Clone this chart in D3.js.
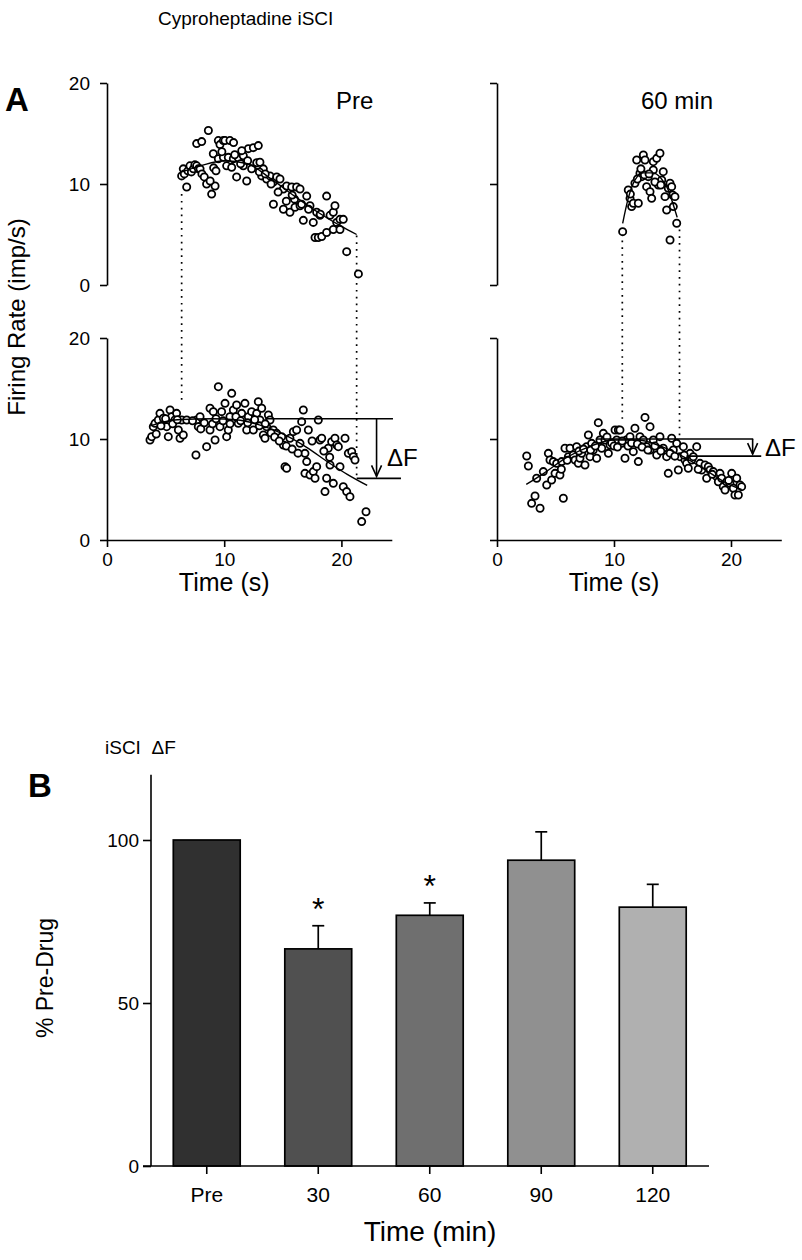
<!DOCTYPE html>
<html><head><meta charset="utf-8">
<script src="https://cdn.jsdelivr.net/npm/d3@7/dist/d3.min.js"></script>
<style>body{margin:0;background:#fff} text{font-family:"Liberation Sans",Arial,sans-serif;fill:#000}</style>
</head><body><svg id="c" width="802" height="1260"></svg>
<script>
// ---------- DATA ----------
const firingTicks = [0, 10, 20];
const timeTicks = [0, 10, 20];
const pctTicks = [0, 50, 100];

// Panel A, Pre, top (descending ramp portion) [time s, rate imp/s]
const preTopPoints = [[6.37,10.8],[6.51,11.5],[6.8,9.7],[6.6,11.0],[6.9,11.3],[7.08,11.8],[7.2,11.2],[7.37,11.5],[7.5,11.9],[7.65,11.8],[7.8,11.5],[7.94,11.5],[8.1,11.0],[8.3,10.7],[7.65,14.0],[8.08,14.2],[8.65,15.3],[8.5,10.0],[8.93,9.0],[9.22,9.8],[8.8,10.3],[9.07,13.0],[9.1,11.6],[9.3,11.3],[9.5,14.3],[9.64,13.9],[9.93,14.3],[10.07,14.3],[10.49,14.3],[10.8,14.1],[9.5,12.5],[9.93,12.64],[10.35,12.64],[10.78,12.5],[11.2,12.6],[11.63,12.8],[12.06,13.5],[12.49,13.6],[12.91,13.8],[10.21,11.8],[10.64,11.65],[11.06,10.7],[11.63,11.8],[11.92,10.3],[12.34,11.5],[12.77,12.1],[13.05,12.15],[13.34,11.5],[13.2,10.8],[13.62,10.5],[13.91,10.8],[14.19,10.2],[14.48,10.7],[14.76,10.5],[15.05,9.5],[15.33,9.8],[15.76,9.7],[16.18,9.7],[16.47,9.5],[13.0,11.2],[13.5,11.0],[14.0,10.0],[14.2,8.0],[15.05,7.5],[15.61,7.2],[16.04,7.7],[16.47,7.85],[16.75,6.4],[17.04,8.8],[17.32,7.85],[17.6,6.2],[17.89,7.2],[18.17,6.9],[18.74,8.8],[19.03,6.9],[19.31,7.2],[19.45,7.85],[19.6,6.2],[19.88,6.5],[20.16,6.5],[17.75,4.7],[18.03,4.7],[18.32,4.8],[18.74,5.2],[19.31,5.5],[19.88,5.5],[20.45,3.3],[21.45,1.1],[15.3,8.3],[16.0,8.5],[16.6,8.0],[17.2,7.5],[18.2,7.0],[14.6,9.2],[15.8,8.9],[12.0,12.3],[11.4,12.0],[10.9,12.9],[9.8,13.2],[11.5,13.3]];
const preTopFit = [[6.4,11.2],[8,11.8],[10,12.3],[12,12.0],[14,10.5],[16,8.8],[18,7.2],[20,5.8],[21.3,5.0]];

// Panel A, Pre, bottom (ascending ramp portion)
const preBottomPoints = [[3.67,9.9],[3.81,10.23],[3.95,11.22],[4.1,11.55],[4.38,11.88],[4.52,12.54],[4.81,12.05],[5.09,11.22],[5.23,10.23],[5.38,12.87],[5.52,12.21],[5.8,11.88],[5.94,12.54],[6.09,10.89],[6.23,10.07],[6.51,10.4],[6.37,11.88],[6.8,11.88],[7.65,11.88],[7.79,11.22],[7.94,12.21],[7.59,8.42],[8.5,9.24],[8.79,10.89],[8.79,13.04],[9.07,12.71],[9.22,9.9],[9.5,15.18],[9.64,11.22],[9.78,12.71],[10.07,13.53],[10.21,10.23],[10.35,10.89],[10.49,12.21],[10.64,14.52],[10.78,12.87],[11.06,13.37],[11.2,11.55],[11.49,12.54],[11.77,13.53],[11.92,10.89],[12.06,12.21],[12.34,12.71],[12.49,10.89],[12.77,12.54],[12.91,13.7],[13.05,11.88],[13.2,13.04],[13.34,10.4],[13.48,10.07],[13.62,11.22],[13.77,12.38],[13.91,11.88],[14.19,10.89],[14.48,10.56],[14.9,10.23],[15.05,9.41],[15.19,7.26],[15.33,7.1],[15.61,10.07],[15.9,10.73],[16.18,10.89],[16.47,9.57],[16.61,11.72],[16.75,12.87],[16.89,8.58],[17.04,7.76],[17.18,10.89],[16.89,6.6],[17.32,6.44],[17.6,6.77],[17.75,6.11],[17.89,7.26],[18.03,11.88],[18.17,9.9],[18.32,10.07],[18.6,4.79],[18.74,6.11],[18.88,9.08],[19.03,7.43],[19.17,9.74],[19.31,5.61],[19.45,10.07],[19.6,9.41],[19.74,9.24],[19.88,7.26],[20.16,5.28],[20.31,10.07],[20.45,4.79],[20.59,8.58],[20.73,4.29],[20.88,8.75],[21.02,8.25],[21.16,7.92],[21.73,1.82],[22.1,2.8],[4.2,10.5],[4.6,11.3],[5.0,12.0],[5.6,11.5],[6.0,11.9],[7.3,11.8],[8.0,11.0],[8.3,11.6],[9.0,11.5],[9.3,12.0],[9.9,11.8],[10.5,11.5],[11.0,12.2],[11.4,11.8],[12.0,11.6],[12.6,11.9],[13.0,11.3],[13.5,11.5],[14.0,10.6],[14.3,10.2],[14.7,9.8],[15.3,9.3],[15.8,9.0],[16.3,8.6],[17.5,9.8],[18.5,8.8],[19.0,8.2]];
const preBottomFit = [[3.7,11.3],[6,11.9],[9,12.0],[11,11.9],[13,11.4],[15,10.5],[17,9.2],[19,7.6],[20.5,6.5],[22.2,5.4]];

// Panel A, 60 min, top
const postTopPoints = [[10.74,5.28],[11.22,9.41],[11.37,8.58],[11.51,7.76],[11.65,8.09],[11.79,10.07],[11.94,12.38],[12.08,8.09],[12.22,11.06],[12.37,10.73],[12.51,12.87],[12.65,12.38],[12.79,9.74],[12.93,10.73],[13.08,9.24],[13.22,8.58],[13.36,11.39],[13.36,12.21],[13.65,12.54],[13.79,9.9],[13.93,13.04],[14.08,10.4],[14.21,11.22],[14.36,8.75],[14.5,7.43],[14.64,9.57],[14.79,10.07],[14.93,9.74],[15.01,8.91],[15.07,7.76],[15.21,8.75],[15.36,6.11],[14.79,4.46],[11.4,9.0],[12.0,10.5],[12.6,10.9],[13.0,11.0],[13.5,10.2],[14.0,9.9],[12.3,11.5]];
const postTopFit = [[10.74,6.1],[11.2,8.5],[11.8,10.4],[12.5,11.1],[13.3,11.1],[14.0,10.6],[14.6,9.5],[15.0,8.2],[15.4,6.7]];

// Panel A, 60 min, bottom
const postBottomPoints = [[2.54,8.32],[2.68,7.33],[3.39,6.11],[2.96,3.63],[3.25,4.36],[3.68,3.14],[3.96,6.77],[4.25,5.45],[4.39,8.58],[4.53,7.92],[4.67,5.94],[4.81,7.76],[4.96,6.6],[5.1,7.59],[5.38,6.44],[5.53,7.76],[5.67,4.13],[5.81,9.08],[6.1,8.25],[6.24,9.08],[6.52,8.42],[6.67,7.92],[6.81,9.24],[6.95,7.59],[7.09,8.09],[7.24,8.58],[7.52,7.43],[7.66,9.24],[7.81,10.4],[7.95,8.25],[8.09,9.57],[8.23,8.91],[8.52,8.09],[8.66,11.62],[8.8,9.9],[8.95,9.08],[9.09,10.56],[9.23,9.9],[9.52,8.58],[9.66,9.41],[9.94,9.57],[10.09,10.89],[10.23,9.9],[10.37,10.89],[10.66,9.57],[10.94,8.09],[11.09,9.9],[10.51,10.89],[11.08,9.9],[11.37,10.23],[11.65,8.75],[11.79,11.06],[12.08,7.76],[12.22,10.23],[12.51,9.9],[12.65,12.14],[12.79,9.24],[13.08,11.22],[13.08,8.91],[13.36,9.9],[13.65,8.42],[13.93,10.23],[14.21,9.08],[14.5,8.25],[14.64,6.6],[14.93,10.07],[15.07,8.91],[15.36,9.57],[15.5,6.93],[15.64,8.25],[15.93,9.24],[16.07,7.92],[16.21,7.59],[16.35,7.1],[16.5,8.58],[16.64,7.92],[16.78,8.25],[17.07,9.24],[17.35,7.59],[17.5,6.93],[17.78,7.43],[17.92,6.11],[18.06,7.26],[18.21,6.93],[18.49,6.77],[18.78,6.27],[18.92,5.77],[19.06,6.6],[19.2,6.11],[19.34,5.28],[19.49,4.95],[19.63,5.77],[19.91,5.61],[20.06,6.6],[20.2,5.12],[20.34,4.46],[20.49,6.11],[20.63,4.46],[20.77,5.45],[20.91,5.28],[9.8,9.6],[10.0,9.3],[10.3,9.2],[10.7,9.8],[11.2,9.3],[11.5,9.6],[12.0,9.5],[12.4,9.2],[12.9,8.9],[13.5,9.3],[14.0,8.8],[14.8,8.6],[15.2,8.3],[16.0,8.4],[17.2,7.0],[18.4,6.5],[19.8,5.9],[7.0,8.8],[7.4,9.0],[8.0,8.9],[8.4,9.3],[6.0,7.9],[5.5,7.0],[9.4,10.2]];
const postBottomFit = [[2.5,5.5],[4,6.6],[6,8.2],[8,9.3],[10,9.9],[12,9.9],[14,9.3],[16,8.2],[18,6.8],[20,5.4],[20.9,5.0]];

// Recruitment / derecruitment links: [time, top rate, bottom rate]
const preLinks = [[6.37, 9.0, 13.6], [21.3, 4.9, 6.0]];
const postLinks = [[10.71, 4.4, 12.0], [15.6, 5.5, 10.3]];

// Delta F: [start time of upper line, upper level, start time of lower line, lower level, end time, arrow time]
const preDelta = [13.5, 12.0, 21.3, 6.1, 24.4, 23.0];
const postDelta = [8.5, 10.0, 16.2, 8.3, 21.9, 21.85];

// Panel B
const barCategories = ["Pre", "30", "60", "90", "120"];
const barValues = [100, 66.6, 76.9, 93.8, 79.4];
const barErrors = [0, 7.1, 3.8, 8.7, 7.0];
const barSignificant = [false, true, true, false, false];
const barColors = ["#303030", "#505050", "#6f6f6f", "#909090", "#b0b0b0"];

// ---------- DRAW ----------
const svg = d3.select('#c');
svg.append('rect').attr('width', 802).attr('height', 1260).attr('fill', '#fff');
const FONT = '"Liberation Sans", Arial, sans-serif';

const xL = d3.scaleLinear().domain([0, 24.3]).range([107, 391.8]);
const xR = d3.scaleLinear().domain([0, 24.3]).range([497, 781.3]);
const yTop = d3.scaleLinear().domain([0, 20]).range([285, 83]);
const yBot = d3.scaleLinear().domain([0, 20]).range([540, 338]);

function styleAxis(g, fs) {
  g.selectAll('path,line').attr('stroke', '#000').attr('stroke-width', 1.6);
  g.selectAll('text').attr('font-size', fs).attr('font-family', FONT).attr('fill', '#000');
}

// Y axes
[[xL, yTop, true], [xR, yTop, false], [xL, yBot, true], [xR, yBot, false]].forEach(([x, y, lab]) => {
  const ax = d3.axisLeft(y).tickValues(firingTicks).tickSize(7).tickSizeOuter(0).tickPadding(10);
  if (!lab) ax.tickFormat('');
  const g = svg.append('g').attr('transform', `translate(${x(0)},0)`).call(ax);
  styleAxis(g, 19);
});
// X axes (bottom)
[xL, xR].forEach(x => {
  const g = svg.append('g').attr('transform', `translate(0,${yBot(0)})`)
    .call(d3.axisBottom(x).tickValues(timeTicks).tickSize(7).tickSizeOuter(0).tickPadding(6));
  styleAxis(g, 19);
});

// dotted links
function links(x, arr) {
  arr.forEach(([t, vt, vb]) => {
    svg.append('line').attr('x1', x(t)).attr('x2', x(t)).attr('y1', yTop(vt)).attr('y2', yBot(vb))
      .attr('stroke', '#000').attr('stroke-width', 1.7).attr('stroke-dasharray', '1.7,5.1');
  });
}
links(xL, preLinks);
links(xR, postLinks);

const line = (x, y) => d3.line().x(d => x(d[0])).y(d => y(d[1])).curve(d3.curveMonotoneX);

function scatter(x, y, pts, fit) {
  svg.append('g').selectAll('circle').data(pts).join('circle')
    .attr('cx', d => x(d[0])).attr('cy', d => y(d[1])).attr('r', 3.6)
    .attr('fill', '#fff').attr('stroke', '#000').attr('stroke-width', 1.8);
  svg.append('path').datum(fit).attr('d', line(x, y)).attr('fill', 'none')
    .attr('stroke', '#000').attr('stroke-width', 1.4);
}
scatter(xL, yTop, preTopPoints, preTopFit);
scatter(xL, yBot, preBottomPoints, preBottomFit);
scatter(xR, yTop, postTopPoints, postTopFit);
scatter(xR, yBot, postBottomPoints, postBottomFit);

function deltaF(x, d, tx, ty) {
  const [t1, v1, t2, v2, tEnd, tArrow] = d;
  const g = svg.append('g').attr('stroke', '#000').attr('stroke-width', 1.6).attr('fill', 'none');
  g.append('line').attr('x1', x(t1)).attr('x2', x(tEnd)).attr('y1', yBot(v1)).attr('y2', yBot(v1));
  g.append('line').attr('x1', x(t2)).attr('x2', x(tEnd) + 8).attr('y1', yBot(v2)).attr('y2', yBot(v2));
  g.append('line').attr('x1', x(tArrow)).attr('x2', x(tArrow)).attr('y1', yBot(v1)).attr('y2', yBot(v2) - 2);
  const ax = x(tArrow), ay = yBot(v2) - 2;
  g.append('path').attr('d', `M${ax - 5},${ay - 11}L${ax},${ay}L${ax + 5},${ay - 11}`);
  svg.append('text').attr('x', tx).attr('y', ty).attr('font-size', 24).attr('font-family', FONT)
    .text('\u0394F');
}
deltaF(xL, preDelta, 387, 466);
deltaF(xR, postDelta, 765, 456);

// Labels panel A
svg.append('text').attr('x', 158).attr('y', 25).attr('font-size', 19).text('Cyproheptadine iSCI');
svg.append('text').attr('x', 5).attr('y', 111).attr('font-size', 33).attr('font-weight', 'bold').text('A');
svg.append('text').attr('x', 336).attr('y', 109).attr('font-size', 24).text('Pre');
svg.append('text').attr('x', 641).attr('y', 109).attr('font-size', 24).text('60 min');
svg.append('text').attr('transform', 'translate(25,317) rotate(-90)').attr('text-anchor', 'middle')
  .attr('font-size', 24).text('Firing Rate (imp/s)');
svg.append('text').attr('x', xL(10)).attr('y', 591).attr('text-anchor', 'middle').attr('font-size', 25).text('Time (s)');
svg.append('text').attr('x', xR(10)).attr('y', 591).attr('text-anchor', 'middle').attr('font-size', 25).text('Time (s)');

// ---------- Panel B ----------
const xB = d3.scaleBand().domain(barCategories).range([151, 708.5]).paddingInner(0.4).paddingOuter(0.2);
const yB = d3.scaleLinear().domain([0, 120]).range([1166, 774.8]);

const bars = svg.append('g');
bars.selectAll('rect').data(barCategories).join('rect')
  .attr('x', d => xB(d)).attr('y', (d, i) => yB(barValues[i]))
  .attr('width', xB.bandwidth()).attr('height', (d, i) => yB(0) - yB(barValues[i]))
  .attr('fill', (d, i) => barColors[i]).attr('stroke', '#000').attr('stroke-width', 1.7);

const eb = svg.append('g').attr('stroke', '#000').attr('stroke-width', 1.7);
barCategories.forEach((c, i) => {
  if (!barErrors[i]) return;
  const cx = xB(c) + xB.bandwidth() / 2;
  eb.append('line').attr('x1', cx).attr('x2', cx).attr('y1', yB(barValues[i])).attr('y2', yB(barValues[i] + barErrors[i]));
  eb.append('line').attr('x1', cx - 6).attr('x2', cx + 6).attr('y1', yB(barValues[i] + barErrors[i])).attr('y2', yB(barValues[i] + barErrors[i]));
  if (barSignificant[i]) {
    svg.append('text').attr('x', cx).attr('y', yB(barValues[i] + barErrors[i]) - 22 + 16)
      .attr('text-anchor', 'middle').attr('font-size', 32).text('*');
  }
});

const gyB = svg.append('g').attr('transform', `translate(${xB.range()[0]},0)`)
  .call(d3.axisLeft(yB).tickValues(pctTicks).tickSize(8).tickSizeOuter(0).tickPadding(4));
gyB.select('.domain').attr('d', `M0,${yB(0)}V${yB(120)}`);
styleAxis(gyB, 19);
const gxB = svg.append('g').attr('transform', `translate(0,${yB(0)})`)
  .call(d3.axisBottom(xB).tickSize(8).tickSizeOuter(0).tickPadding(13));
gxB.select('.domain').attr('d', `M143,0H709`);
styleAxis(gxB, 21);

svg.append('text').attr('x', 28).attr('y', 797).attr('font-size', 33).attr('font-weight', 'bold').text('B');
svg.append('text').attr('x', 105).attr('y', 754).attr('font-size', 19).attr('xml:space', 'preserve').text('iSCI  \u0394F');
svg.append('text').attr('transform', 'translate(53,978) rotate(-90)').attr('text-anchor', 'middle')
  .attr('font-size', 23).text('% Pre-Drug');
svg.append('text').attr('x', 430).attr('y', 1241).attr('text-anchor', 'middle').attr('font-size', 28).text('Time (min)');
</script></body></html>
